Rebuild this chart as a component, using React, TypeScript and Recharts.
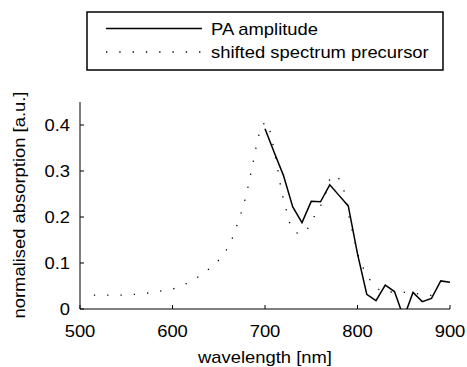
import { LineChart, Line, XAxis, YAxis } from "recharts";

// PA amplitude (solid)
const paNm = [700, 710, 720, 730, 740, 750, 760, 770, 780, 790, 800, 810, 820, 830, 840, 850, 860, 870, 880, 890, 900];
const paVal = [0.392, 0.34, 0.29, 0.222, 0.188, 0.234, 0.233, 0.27, 0.247, 0.224, 0.12, 0.032, 0.018, 0.052, 0.038, -0.019, 0.036, 0.016, 0.023, 0.061, 0.058];

// shifted spectrum precursor (dotted)
const specNm = [515, 530, 545, 560, 575, 590, 600, 615, 628, 640, 651, 660, 666, 671, 676, 680, 686, 692, 697, 703, 707, 713, 718, 722, 726, 733, 740, 745, 752, 763, 770, 778, 785, 792, 801, 807, 815, 826, 842, 860, 873, 888];
const specVal = [0.03, 0.03, 0.03, 0.032, 0.035, 0.04, 0.043, 0.055, 0.07, 0.088, 0.108, 0.133, 0.16, 0.19, 0.22, 0.25, 0.307, 0.369, 0.402, 0.405, 0.374, 0.313, 0.253, 0.224, 0.19, 0.166, 0.163, 0.171, 0.197, 0.234, 0.282, 0.291, 0.261, 0.189, 0.115, 0.085, 0.058, 0.037, 0.037, 0.035, 0.03, 0.029];

const xTicks = [500, 600, 700, 800, 900];
const yTicks = [0, 0.1, 0.2, 0.3, 0.4];

const paData = paNm.map((nm, i) => ({ nm, v: paVal[i] }));
const specData = specNm.map((nm, i) => ({ nm, v: specVal[i] }));

const FONT = "'Liberation Sans', Arial, Helvetica, sans-serif";
const FS = 16;
const SX = 1.15; // text in the original is a bit wider than it is tall

// stretched text label
function T({ x, y, anchor = "start", rot = 0, children }: any) {
  return (
    <text
      transform={`translate(${x},${y}) rotate(${rot}) scale(${SX},1)`}
      textAnchor={anchor}
      fontSize={FS}
      fontFamily={FONT}
      fill="#000"
    >
      {children}
    </text>
  );
}

function XTick({ x, y, payload }: any) {
  return (
    <g>
      <line x1={x} x2={x} y1={y} y2={y - 4} stroke="#000" />
      <T x={x} y={y + 27.5} anchor="middle">{payload.value}</T>
    </g>
  );
}

function YTick({ x, y, payload }: any) {
  return (
    <g>
      <line x1={x} x2={x + 4} y1={y} y2={y} stroke="#000" />
      <T x={x - 10} y={y + 5.8} anchor="end">{payload.value}</T>
    </g>
  );
}

export default function App() {
  return (
    <div style={{ position: "absolute", left: 0, top: 0, width: 467, height: 367, background: "#fff" }}>
      <LineChart width={467} height={367} margin={{ top: 102, right: 17, bottom: 0, left: 0 }}>
        <XAxis
          dataKey="nm"
          type="number"
          domain={[500, 900]}
          ticks={xTicks}
          interval={0}
          height={58}
          tickSize={0}
          tickMargin={0}
          tickLine={false}
          axisLine={{ stroke: "#000" }}
          tick={<XTick />}
          allowDuplicatedCategory={false}
        />
        <YAxis
          type="number"
          domain={[0, 0.45]}
          ticks={yTicks}
          interval={0}
          width={80}
          tickSize={0}
          tickMargin={0}
          tickLine={false}
          axisLine={{ stroke: "#000" }}
          tick={<YTick />}
          allowDataOverflow
        />
        <Line
          data={specData}
          dataKey="v"
          type="linear"
          stroke="#000"
          strokeWidth={1.3}
          strokeDasharray="1.3 12"
          dot={false}
          activeDot={false}
          isAnimationActive={false}
        />
        <Line
          data={paData}
          dataKey="v"
          type="linear"
          stroke="#000"
          strokeWidth={1.5}
          dot={false}
          activeDot={false}
          isAnimationActive={false}
        />
      </LineChart>
      <svg width={467} height={367} style={{ position: "absolute", left: 0, top: 0, pointerEvents: "none" }}>
        <T x={25} y={205} rot={-90} anchor="middle">normalised absorption [a.u.]</T>
        <T x={265} y={362.5} anchor="middle">wavelength [nm]</T>
        <rect x={87} y={12} width={356} height={58} fill="#fff" stroke="#000" strokeWidth={1.5} />
        <line x1={106} x2={202} y1={28.5} y2={28.5} stroke="#000" strokeWidth={1.5} />
        <T x={211} y={34.5}>PA amplitude</T>
        <line x1={106} x2={202} y1={52} y2={52} stroke="#000" strokeWidth={1.3} strokeDasharray="1.3 12" />
        <T x={211} y={58}>shifted spectrum precursor</T>
      </svg>
    </div>
  );
}
